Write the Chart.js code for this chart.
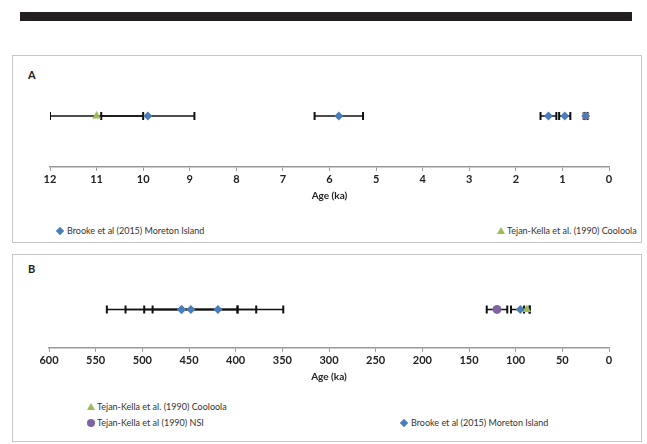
<!DOCTYPE html>
<html>
<head>
<meta charset="utf-8">
<script src="https://cdn.jsdelivr.net/npm/chart.js@4.4.1/dist/chart.umd.min.js"></script>
<style>
  body { margin: 0; background: #fff; width: 647px; height: 444px; position: relative; overflow: hidden; font-family: Lato, "Open Sans", sans-serif; }
  .bar { position: absolute; left: 20px; top: 12px; width: 612px; height: 9px; background: #231f20; }
  .panel { position: absolute; left: 12px; width: 628px; border: 1.5px solid #c6c6c6; }
  .plabel { position: absolute; left: 15px; font-size: 11px; font-weight: bold; color: #222; }
  .cbox { position: absolute; left: 1px; width: 626px; }
  .leg { position: absolute; font-size: 9px; color: #333; white-space: nowrap; }
  .mk { display: inline-block; vertical-align: middle; margin-right: 2px; position: relative; top: -1px; }
  .dia { width: 6px; height: 6px; background: #4a7ebb; transform: rotate(45deg); margin-right: 4px; }
  .tri { width: 0; height: 0; border-left: 4px solid transparent; border-right: 4px solid transparent; border-bottom: 7px solid #9bbb59; }
  .cir { width: 8px; height: 8px; border-radius: 50%; background: #8064a2; }
</style>
</head>
<body>
<div class="bar"></div>

<div class="panel" style="top:55px; height:186px;">
  <div class="plabel" style="top:12px;">A</div>
  <div class="cbox" style="top:0; height:146px;"><canvas id="chartA"></canvas></div>
  <div class="leg" style="left:44px; top:169px;"><span class="mk dia"></span>Brooke et al (2015) Moreton Island</div>
  <div class="leg" style="left:484px; top:169px;"><span class="mk tri"></span>Tejan-Kella et al. (1990) Cooloola</div>
</div>

<div class="panel" style="top:254px; height:186px;">
  <div class="plabel" style="top:7px;">B</div>
  <div class="cbox" style="top:0; height:128px;"><canvas id="chartB"></canvas></div>
  <div class="leg" style="left:74px; top:146px;"><span class="mk tri"></span>Tejan-Kella et al. (1990) Cooloola</div>
  <div class="leg" style="left:74px; top:162px;"><span class="mk cir"></span>Tejan-Kella et al (1990) NSI</div>
  <div class="leg" style="left:388px; top:162px;"><span class="mk dia"></span>Brooke et al (2015) Moreton Island</div>
</div>

<script>
// --- Panel A (ka) ---
const brookeA = [9.9, 5.8, 1.3, 0.95, 0.5];
const brookeErrA = [1.0, 0.52, 0.17, 0.12, 0.04];
const tejanA = [11.0];
const tejanErrA = [1.0];
const crossA = [0.5];

// --- Panel B (ka) ---
const brookeB = [458, 458, 448, 419, 95];
const brookeErrB = [80, 60, 50, 70, 10];
const tejanB = [88];
const tejanErrB = [3];
const nsiB = [120];
const nsiErrB = [11];

const ticksA = [12, 11, 10, 9, 8, 7, 6, 5, 4, 3, 2, 1, 0];
const ticksB = [600, 550, 500, 450, 400, 350, 300, 250, 200, 150, 100, 50, 0];

const BLUE = '#4a7ebb', GREEN = '#9bbb59', PURPLE = '#8064a2', RED = '#d0706d';

function errorSets(values, errs) {
    return values.map((v, i) => ({
        data: [{ x: v + errs[i], y: 0 }, { x: v - errs[i], y: 0 }],
        showLine: true,
        borderColor: '#111',
        borderWidth: 1.5,
        pointStyle: 'line',
        rotation: 90,
        pointRadius: 4,
        pointBorderWidth: 2,
        pointBorderColor: '#111',
        order: 3
    }));
}

function markerSet(values, style, color, radius) {
    return {
        data: values.map(v => ({ x: v, y: 0 })),
        pointStyle: style,
        pointRadius: radius,
        backgroundColor: color,
        borderColor: color,
        borderWidth: style === 'crossRot' ? 2 : 0,
        order: 1
    };
}

function makeChart(id, datasets, ticks, padTop, padLeft, padRight) {
    const maxV = Math.max(...ticks);
    const step = ticks[0] - ticks[1];
    return new Chart(document.getElementById(id), {
        type: 'scatter',
        data: { datasets: datasets },
        options: {
            responsive: true,
            maintainAspectRatio: false,
            animation: false,
            layout: { padding: { top: padTop, left: padLeft, right: padRight, bottom: 0 } },
            plugins: { legend: { display: false }, tooltip: { enabled: false } },
            scales: {
                x: {
                    type: 'linear',
                    reverse: true,
                    min: 0,
                    max: maxV,
                    afterBuildTicks: axis => { axis.ticks = ticks.map(v => ({ value: v })); },
                    ticks: { stepSize: step, color: '#222', font: { family: 'Lato', size: 11, weight: 'bold' }, padding: 2, maxRotation: 0 },
                    grid: { drawOnChartArea: false, drawTicks: true, tickLength: 4, color: '#999', lineWidth: 1 },
                    border: { display: true, color: '#999', width: 1.5 },
                    title: { display: true, text: 'Age (ka)', color: '#222', font: { family: 'Lato', size: 10, weight: 'bold' }, padding: { top: 2, bottom: 0 } }
                },
                y: { display: false, min: -1, max: 1 }
            }
        }
    });
}

makeChart('chartA', [
    markerSet(tejanA, 'triangle', GREEN, 5),
    markerSet(brookeA, 'rectRot', BLUE, 4.5),
    markerSet(crossA, 'crossRot', RED, 4.5),
    ...errorSets(tejanA, tejanErrA),
    ...errorSets(brookeA, brookeErrA)
], ticksA, 9, 36, 31);

makeChart('chartB', [
    markerSet(tejanB, 'triangle', GREEN, 5),
    markerSet(nsiB, 'circle', PURPLE, 4.5),
    markerSet(brookeB, 'rectRot', BLUE, 4.5),
    ...errorSets(tejanB, tejanErrB),
    ...errorSets(nsiB, nsiErrB),
    ...errorSets(brookeB, brookeErrB)
], ticksB, 16, 35, 31);
</script>
</body>
</html>
